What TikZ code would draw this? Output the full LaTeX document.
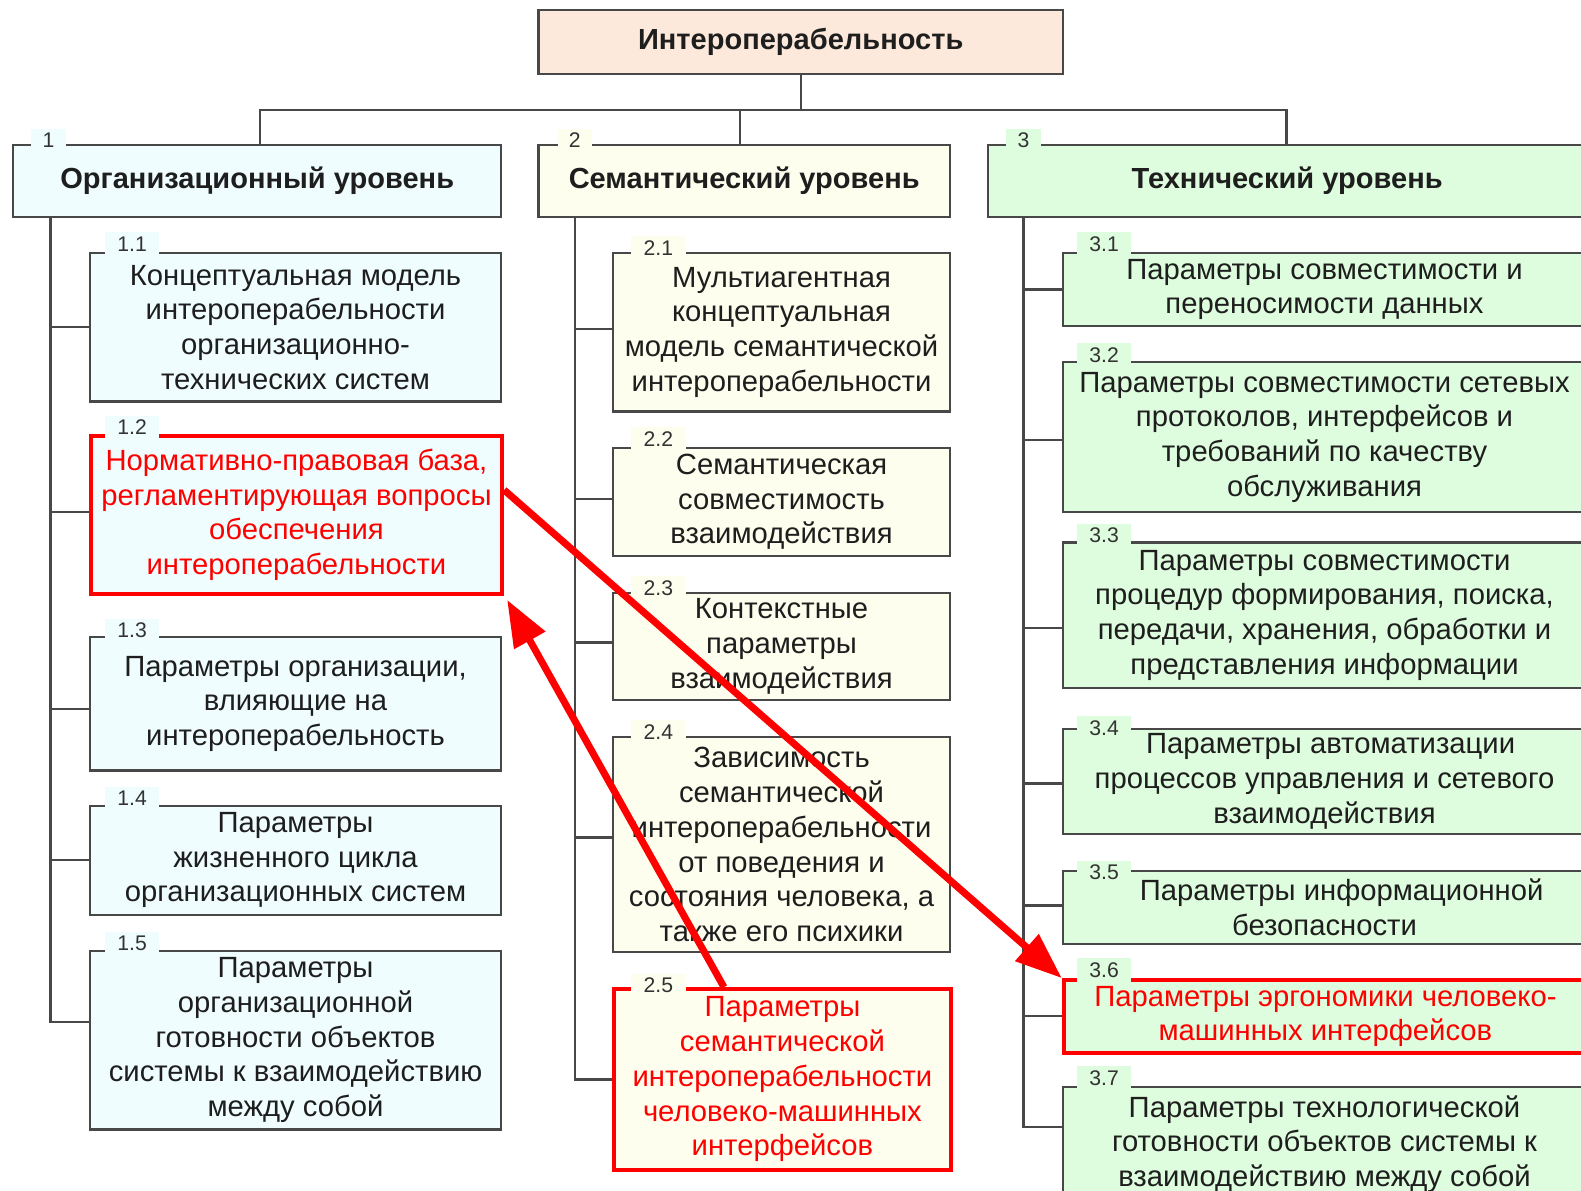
\documentclass[tikz,border=0pt]{standalone}
\usepackage{fontspec}
\setmainfont{Liberation Sans}
\usetikzlibrary{calc,arrows.meta}
\definecolor{peachF}{RGB}{252,233,219}
\definecolor{cyanF}{RGB}{240,253,254}
\definecolor{yelF}{RGB}{254,254,238}
\definecolor{greenF}{RGB}{222,252,222}
\definecolor{edge}{RGB}{72,72,72}
\definecolor{txt}{RGB}{30,30,30}
\definecolor{labtxt}{RGB}{50,50,50}
\definecolor{hot}{RGB}{255,0,0}
\tikzset{
 box/.style={draw=edge, line width=2.2pt, anchor=north west, inner sep=0pt, align=center, text=txt, font=\fontsize{29}{34.5}\selectfont},
 titlebox/.style={box, font=\bfseries\fontsize{28.8}{32}\selectfont},
 hotbox/.style={draw=hot, line width=4pt, text=hot},
 lab/.style={inner sep=0pt, minimum width=54pt, minimum height=23pt, text=labtxt, font=\fontsize{21}{22}\selectfont},
 toplab/.style={lab, minimum width=34pt},
 conn/.style={draw=edge, line width=2.2pt},
 redarrow/.style={draw=hot, line width=7pt, -{Triangle[length=46pt,width=34pt]}},
}
\begin{document}
\begin{tikzpicture}[x=1pt,y=-1pt]
\useasboundingbox (0,0) rectangle (1568,1181);
\clip (0,0) rectangle (1568,1181);
% top
\node[titlebox, fill=peachF, minimum width=520pt, minimum height=63pt] (top) at (533,9) {Интероперабельность};
% level 1
\node[titlebox, fill=cyanF, minimum width=484pt, minimum height=71pt] (b1) at (12,143) {Организационный уровень};
\node[titlebox, fill=yelF, minimum width=408pt, minimum height=71pt] (b2) at (533,143) {Семантический уровень};
\node[titlebox, fill=greenF, minimum width=593pt, minimum height=71pt] (b3) at (979,143) {Технический уровень};
% column 1
\node[box, fill=cyanF, minimum width=408pt, minimum height=147pt] (b11) at (88,250) {Концептуальная модель\\интероперабельности\\организационно-\\технических систем};
\node[box, hotbox, fill=cyanF, minimum width=408pt, minimum height=157pt] (b12) at (88,430) {Нормативно-правовая база,\\регламентирующая вопросы\\обеспечения\\интероперабельности};
\node[box, fill=cyanF, minimum width=408pt, minimum height=132pt] (b13) at (88,631) {Параметры организации,\\влияющие на\\интероперабельность};
\node[box, fill=cyanF, minimum width=408pt, minimum height=108pt] (b14) at (88,798) {Параметры\\жизненного цикла\\организационных систем};
\node[box, fill=cyanF, minimum width=408pt, minimum height=177pt] (b15) at (88,942) {Параметры\\организационной\\готовности объектов\\системы к взаимодействию\\между собой};
% column 2
\node[box, fill=yelF, minimum width=334pt, minimum height=157pt] (b21) at (607,250) {Мультиагентная\\концептуальная\\модель семантической\\интероперабельности};
\node[box, fill=yelF, minimum width=334pt, minimum height=107pt] (b22) at (607,443) {Семантическая\\совместимость\\взаимодействия};
\node[box, fill=yelF, minimum width=334pt, minimum height=106pt] (b23) at (607,587) {Контекстные\\параметры\\взаимодействия};
\node[box, fill=yelF, minimum width=334pt, minimum height=213pt] (b24) at (607,730) {Зависимость\\семантической\\интероперабельности\\от поведения и\\состояния человека, а\\также его психики};
\node[box, hotbox, fill=yelF, minimum width=334pt, minimum height=179pt] (b25) at (607,979) {Параметры\\семантической\\интероперабельности\\человеко-машинных\\интерфейсов};
% column 3
\node[box, fill=greenF, minimum width=519pt, minimum height=72pt] (b31) at (1053,250) {Параметры совместимости и\\переносимости данных};
\node[box, fill=greenF, minimum width=519pt, minimum height=149pt] (b32) at (1053,358) {Параметры совместимости сетевых\\протоколов, интерфейсов и\\требований по качеству\\обслуживания};
\node[box, fill=greenF, minimum width=519pt, minimum height=144pt] (b33) at (1053,537) {Параметры совместимости\\процедур формирования, поиска,\\передачи, хранения, обработки и\\представления информации};
\node[box, fill=greenF, minimum width=519pt, minimum height=104pt] (b34) at (1053,722) {\hspace*{12pt}Параметры автоматизации\\процессов управления и сетевого\\взаимодействия};
\node[box, fill=greenF, minimum width=519pt, minimum height=72pt] (b35) at (1053,863) {\hspace*{34pt}Параметры информационной\\безопасности};
\node[box, hotbox, fill=greenF, minimum width=519pt, minimum height=72pt] (b36) at (1053,970) {Параметры эргономики человеко-\\машинных интерфейсов};
\node[box, fill=greenF, minimum width=519pt, minimum height=113pt] (b37) at (1053,1077) {Параметры технологической\\готовности объектов системы к\\взаимодействию между собой};
% labels
\node[toplab, fill=cyanF] (l1) at ($(b1.north west)+(36,-4)$) {1};
\node[toplab, fill=yelF] (l2) at ($(b2.north west)+(37,-4)$) {2};
\node[toplab, fill=greenF] (l3) at ($(b3.north west)+(36,-4)$) {3};
\node[lab, fill=cyanF] (l11) at ($(b11.north west)+(43,-8)$) {1.1};
\node[lab, fill=cyanF] (l12) at ($(b12.north west)+(43,-6)$) {1.2};
\node[lab, fill=cyanF] (l13) at ($(b13.north west)+(43,-6)$) {1.3};
\node[lab, fill=cyanF] (l14) at ($(b14.north west)+(43,-6)$) {1.4};
\node[lab, fill=cyanF] (l15) at ($(b15.north west)+(43,-6)$) {1.5};
\node[lab, fill=yelF] (l21) at ($(b21.north west)+(46,-4)$) {2.1};
\node[lab, fill=yelF] (l22) at ($(b22.north west)+(46,-8)$) {2.2};
\node[lab, fill=yelF] (l23) at ($(b23.north west)+(46,-4)$) {2.3};
\node[lab, fill=yelF] (l24) at ($(b24.north west)+(46,-4)$) {2.4};
\node[lab, fill=yelF] (l25) at ($(b25.north west)+(46,-2)$) {2.5};
\node[lab, fill=greenF] (l31) at ($(b31.north west)+(42,-8)$) {3.1};
\node[lab, fill=greenF] (l32) at ($(b32.north west)+(42,-6)$) {3.2};
\node[lab, fill=greenF] (l33) at ($(b33.north west)+(42,-6)$) {3.3};
\node[lab, fill=greenF] (l34) at ($(b34.north west)+(42,0)$) {3.4};
\node[lab, fill=greenF] (l35) at ($(b35.north west)+(42,2)$) {3.5};
\node[lab, fill=greenF] (l36) at ($(b36.north west)+(42,-8)$) {3.6};
\node[lab, fill=greenF] (l37) at ($(b37.north west)+(42,-8)$) {3.7};
% tree connectors
\coordinate (hub) at ($(top.south)+(0,35)$);
\draw[conn] (top.south) -- (hub);
\draw[conn] (hub) -| ($(b1.north west)+(246,0)$);
\draw[conn] (hub) -| ($(b2.north west)+(201,0)$);
\draw[conn] (hub) -| ($(b3.north west)+(297,0)$);
\coordinate (v1) at ($(b1.south west)+(38,0)$);
\coordinate (v2) at ($(b2.south west)+(37,0)$);
\coordinate (v3) at ($(b3.south west)+(36,0)$);
\draw[conn] (v1) |- (b11.west);
\draw[conn] (v1) |- ($(b12.west)+(0,-3)$);
\draw[conn] (v1) |- ($(b13.west)+(0,5)$);
\draw[conn] (v1) |- (b14.west);
\draw[conn] (v1) |- ($(b15.west)+(0,-18)$);
\draw[conn] (v2) |- ($(b21.west)+(0,-3)$);
\draw[conn] (v2) |- ($(b22.west)+(0,-3)$);
\draw[conn] (v2) |- ($(b23.west)+(0,-4)$);
\draw[conn] (v2) |- ($(b24.west)+(0,-7)$);
\draw[conn] (v2) |- (b25.west);
\draw[conn] (v3) |- (b31.west);
\draw[conn] (v3) |- ($(b32.west)+(0,3)$);
\draw[conn] (v3) |- ($(b33.west)+(0,13)$);
\draw[conn] (v3) |- ($(b34.west)+(0,2)$);
\draw[conn] (v3) |- ($(b35.west)+(0,-2)$);
\draw[conn] (v3) |- (b36.west);
\draw[conn] (v3) |- ($(b37.west)+(0,-17)$);
% red arrows
\draw[redarrow] ($(b12.north east)+(0,56)$) -- (b36.north west);
\draw[redarrow] ($(b25.north west)+(111,0)$) -- ($(b12.south east)+(3,4)$);
\end{tikzpicture}
\end{document}
